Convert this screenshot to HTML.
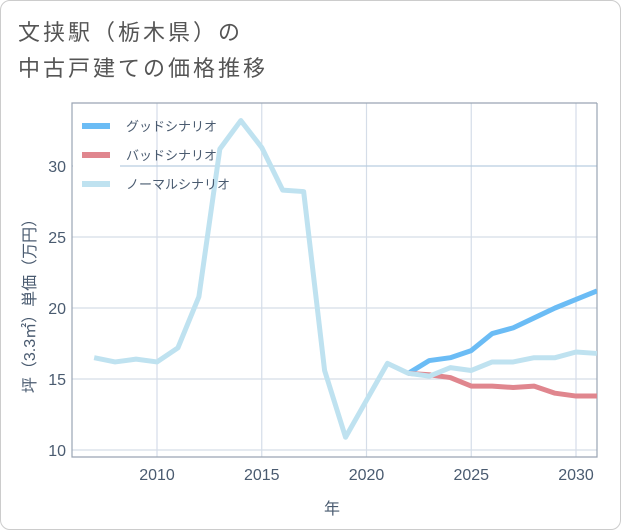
<!DOCTYPE html>
<html><head><meta charset="utf-8"><style>
body{margin:0;background:#fff;}
#card{position:absolute;left:0;top:0;width:619px;height:528px;border:1px solid #ccc;border-radius:10px;background:#fff;}
#title{position:absolute;left:18px;top:15px;font:22px "Liberation Sans","Noto Sans CJK JP",sans-serif;letter-spacing:3px;color:#555;line-height:36px;}
svg text{font-family:"Liberation Sans","Noto Sans CJK JP",sans-serif;}
</style></head><body>
<div id="card"></div>
<div id="title">文挟駅（栃木県）の<br>中古戸建ての価格推移</div>
<svg id="chart" width="621" height="530" style="position:absolute;left:0;top:0"></svg>
<script>
const years=[2007,2008,2009,2010,2011,2012,2013,2014,2015,2016,2017,2018,2019,2020,2021,2022,2023,2024,2025,2026,2027,2028,2029,2030,2031];
const normalValues=[16.5,16.2,16.4,16.2,17.2,20.8,31.2,33.2,31.3,28.3,28.2,15.6,10.9,13.5,16.1,15.4,15.2,15.8,15.6,16.2,16.2,16.5,16.5,16.9,16.8];
const goodYears=[2022,2023,2024,2025,2026,2027,2028,2029,2030,2031];
const goodValues=[15.4,16.3,16.5,17.0,18.2,18.6,19.3,20.0,20.6,21.2];
const badValues=[15.4,15.3,15.1,14.5,14.5,14.4,14.5,14.0,13.8,13.8];
const xTicks=[2010,2015,2020,2025,2030];
const yTicks=[10,15,20,25,30];
const legendLabels=["グッドシナリオ","バッドシナリオ","ノーマルシナリオ"];
const colors=["#6bbcf5","#e0868e","#bfe2f0"];

const NS="http://www.w3.org/2000/svg";
const svg=document.getElementById('chart');
const L=72,R=597,T=103,B=457;
const X=y=>157+(y-2010)*(576-157)/20;
const Y=v=>450-(v-10)*(450-166)/20;
function mk(tag,attrs,parent){const e=document.createElementNS(NS,tag);for(const k in attrs)e.setAttribute(k,attrs[k]);(parent||svg).appendChild(e);return e;}
const defs=mk('defs',{});const cp=mk('clipPath',{id:'pc'},defs);mk('rect',{x:L,y:T,width:R-L,height:B-T},cp);
xTicks.forEach(t=>{
 const g=mk('line',{x1:X(t),x2:X(t),y1:T,y2:B,stroke:'#d5dde8','stroke-width':1.2});
 
 
 const tx=mk('text',{x:X(t),y:480,'text-anchor':'middle','font-size':16,fill:'#4a5b70'});tx.textContent=t;
 
 
});
yTicks.forEach(t=>{
 const g=mk('line',{x1:L,x2:R,y1:Y(t),y2:Y(t),stroke:t===30?'#b9cde0':'#d5dde8','stroke-width':1.2});
 
 
 const tx=mk('text',{x:66,y:Y(t)+6,'text-anchor':'end','font-size':16,fill:'#4a5b70'});tx.textContent=t;
 
 
});
const fr=mk('polyline',{points:`${R},${T} ${L},${T} ${L},${B} ${R},${B} ${R},${T}`,fill:'none',stroke:'#9aa5b3','stroke-width':1.2});


function line(xs,vs,c,name){
 const p=mk('polyline',{points:xs.map((x,i)=>X(x)+','+Y(vs[i])).join(' '),fill:'none',stroke:c,'stroke-width':5,'stroke-linejoin':'round','clip-path':'url(#pc)'});
 
 
}
const lb=mk('rect',{x:73,y:110,width:47,height:85,fill:'#fff'});


line(goodYears,goodValues,colors[0],'good-scenario-line');
line(goodYears,badValues,colors[1],'bad-scenario-line');
line(years,normalValues,colors[2],'normal-scenario-line');
legendLabels.forEach((lab,i)=>{
 const y=126+i*29;
 const g=mk('g',{});
 
 
 mk('line',{x1:82,x2:110,y1:y,y2:y,stroke:colors[i],'stroke-width':6},g);
 const t=mk('text',{x:126,y:y+5,'font-size':13,fill:'#4a5b70'},g);t.textContent=lab;
});
const xt=mk('text',{x:332,y:514,'text-anchor':'middle','font-size':16,fill:'#4a5b70'});xt.textContent='年';


const yt=mk('text',{x:0,y:0,'text-anchor':'middle','font-size':16,fill:'#4a5b70',transform:'translate(35,302) rotate(-90)'});yt.textContent='坪（3.3㎡）単価（万円）';


</script>
</body></html>
